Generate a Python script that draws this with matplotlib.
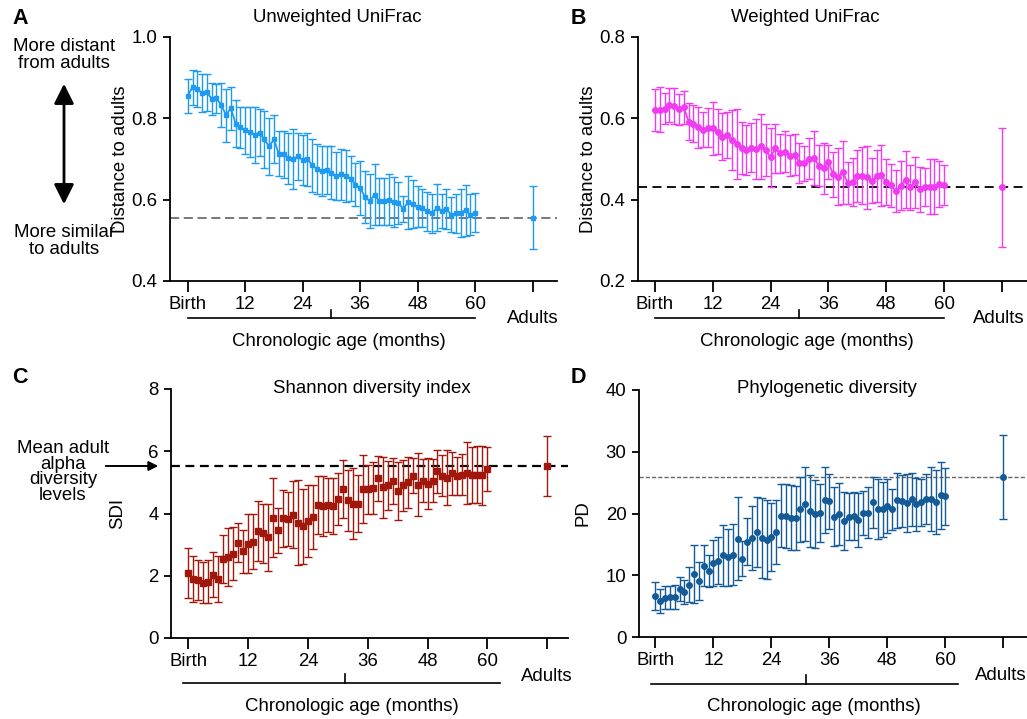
import numpy as np
import matplotlib.pyplot as plt

plt.rcParams['font.family'] = ['Liberation Sans', 'DejaVu Sans']
plt.rcParams['font.size'] = 13.4

W, H = 1027, 719

# months from birth to 60
months = np.arange(0, 61)
tick_pos = [0, 12, 24, 36, 48, 60, 72]
tick_labels = ['Birth', '12', '24', '36', '48', '60', '']
adult_x = 72

# A: unweighted UniFrac
unw_mean = [0.855, 0.877, 0.872, 0.862, 0.864, 0.848, 0.849, 0.833, 0.808, 0.825,
            0.787, 0.778, 0.771, 0.767, 0.760, 0.765, 0.748, 0.731, 0.748, 0.713,
            0.712, 0.702, 0.700, 0.707, 0.697, 0.699, 0.685, 0.675, 0.671, 0.674,
            0.666, 0.658, 0.662, 0.659, 0.652, 0.637, 0.629, 0.607, 0.597, 0.612,
            0.596, 0.596, 0.600, 0.595, 0.592, 0.577, 0.594, 0.589, 0.583, 0.580,
            0.571, 0.567, 0.580, 0.573, 0.577, 0.563, 0.566, 0.568, 0.574, 0.563, 0.568]
unw_err = [0.042, 0.043, 0.045, 0.046, 0.045, 0.039, 0.035, 0.054, 0.065, 0.053,
           0.058, 0.050, 0.058, 0.062, 0.069, 0.057, 0.069, 0.071, 0.059, 0.056,
           0.058, 0.063, 0.074, 0.058, 0.062, 0.066, 0.065, 0.062, 0.061, 0.059,
           0.065, 0.059, 0.062, 0.064, 0.056, 0.052, 0.067, 0.064, 0.066, 0.075,
           0.058, 0.058, 0.062, 0.061, 0.052, 0.032, 0.065, 0.059, 0.050, 0.046,
           0.049, 0.048, 0.058, 0.042, 0.048, 0.043, 0.048, 0.059, 0.063, 0.050, 0.048]
unw_adult, unw_adult_err = 0.555, 0.0775

# B: weighted UniFrac
w_mean = [0.621, 0.621, 0.624, 0.632, 0.630, 0.622, 0.627, 0.592, 0.587, 0.578,
          0.572, 0.577, 0.575, 0.567, 0.555, 0.559, 0.547, 0.537, 0.527, 0.522,
          0.528, 0.525, 0.531, 0.522, 0.504, 0.526, 0.514, 0.518, 0.508, 0.511,
          0.491, 0.489, 0.501, 0.503, 0.484, 0.477, 0.493, 0.462, 0.456, 0.467,
          0.441, 0.444, 0.459, 0.459, 0.455, 0.447, 0.458, 0.460, 0.443, 0.435,
          0.421, 0.434, 0.449, 0.430, 0.443, 0.425, 0.431, 0.432, 0.432, 0.438, 0.436]
w_err = [0.052, 0.055, 0.039, 0.042, 0.044, 0.039, 0.040, 0.045, 0.045, 0.050,
         0.043, 0.048, 0.066, 0.055, 0.058, 0.056, 0.073, 0.086, 0.064, 0.062,
         0.060, 0.073, 0.080, 0.063, 0.073, 0.060, 0.048, 0.051, 0.051, 0.050,
         0.049, 0.043, 0.050, 0.066, 0.050, 0.063, 0.041, 0.055, 0.070, 0.078,
         0.051, 0.059, 0.064, 0.070, 0.077, 0.055, 0.063, 0.075, 0.057, 0.053,
         0.052, 0.060, 0.070, 0.056, 0.063, 0.055, 0.047, 0.067, 0.068, 0.057, 0.049]
w_adult, w_adult_err = 0.430, 0.146

# C: Shannon diversity index
sdi_mean = [2.09, 1.91, 1.86, 1.78, 1.81, 2.04, 1.90, 2.54, 2.61, 2.71,
            3.06, 2.78, 3.03, 3.10, 3.43, 3.36, 3.23, 3.87, 3.46, 3.85,
            3.82, 3.96, 3.71, 3.59, 3.76, 3.89, 4.28, 4.24, 4.28, 4.24,
            4.47, 4.79, 4.42, 4.31, 4.31, 4.78, 4.78, 4.81, 5.13, 4.85,
            4.91, 5.04, 4.72, 4.90, 5.00, 5.22, 4.93, 5.06, 4.95, 5.06,
            5.35, 5.22, 5.15, 5.29, 5.20, 5.25, 5.31, 5.24, 5.25, 5.23, 5.44]
sdi_err = [0.80, 0.74, 0.65, 0.67, 0.68, 0.71, 0.73, 0.77, 0.93, 0.86,
           0.62, 0.69, 0.94, 0.88, 0.97, 0.96, 1.08, 1.27, 0.72, 0.92,
           0.86, 1.07, 1.37, 1.21, 1.16, 1.02, 0.93, 0.95, 0.87, 0.91,
           0.83, 0.93, 0.97, 1.14, 0.92, 1.09, 0.79, 0.83, 0.72, 0.98,
           0.79, 0.75, 0.94, 0.81, 0.81, 0.57, 1.00, 0.69, 0.82, 0.69,
           0.70, 0.67, 0.89, 0.69, 0.61, 0.65, 0.99, 0.91, 0.91, 0.95, 0.71]
sdi_adult, sdi_adult_err = 5.53, 0.965

# D: phylogenetic diversity
pd_mean = [6.60, 5.84, 6.38, 6.43, 6.43, 7.84, 7.35, 8.49, 10.16, 9.08,
           11.57, 10.70, 12.00, 12.38, 13.24, 12.92, 13.35, 15.95, 12.70, 15.46,
           16.00, 16.97, 16.05, 15.73, 16.16, 16.97, 19.62, 19.62, 19.35, 19.30,
           20.65, 21.60, 20.38, 19.90, 20.10, 22.16, 21.95, 19.50, 19.90, 18.80,
           19.46, 19.60, 18.97, 20.10, 20.16, 21.80, 20.76, 20.70, 21.19, 20.70,
           22.16, 22.05, 21.68, 22.27, 21.46, 21.80, 22.32, 22.32, 21.84, 22.97, 22.76]
pd_err = [2.30, 2.00, 1.86, 1.86, 1.95, 1.95, 1.95, 2.84, 4.73, 3.08,
          3.38, 2.60, 3.73, 3.81, 4.95, 4.60, 5.00, 6.76, 2.86, 3.86,
          5.14, 5.68, 6.54, 6.38, 5.49, 5.22, 5.10, 5.14, 5.22, 5.14,
          5.32, 6.00, 5.81, 5.46, 4.68, 5.35, 4.46, 4.78, 5.00, 4.68,
          3.78, 3.89, 4.32, 3.51, 4.14, 4.14, 4.86, 4.46, 4.32, 3.32,
          4.43, 4.24, 4.70, 4.24, 4.35, 3.76, 4.05, 5.14, 5.19, 5.41, 4.68]
pd_adult, pd_adult_err = 25.95, 6.8


def fx(x):
    return x / W


def fy(y):
    return 1 - y / H


def panel(rect, xlim, ylim, yticks, yfmt, mean, err, adult, adult_err, color,
          marker, ms, line, hline_style, bracket, bracket_y, label_y, adults_y, adults_dx=0):
    ax = fig.add_axes([fx(rect[0]), fy(rect[3]), fx(rect[2] - rect[0]), (rect[3] - rect[1]) / H])
    ax.errorbar(months, mean, yerr=err, color=color, ecolor=color, elinewidth=1.0,
                capsize=3, capthick=1.0, marker=marker, ms=ms,
                linestyle='-' if line else 'none', lw=1.3)
    ax.errorbar([adult_x], [adult], yerr=[adult_err], color=color, elinewidth=1.0,
                capsize=3, capthick=1.0, marker=marker, ms=ms, linestyle='none')
    ax.axhline(adult, **hline_style, zorder=0)
    ax.set_xlim(*xlim)
    ax.set_ylim(*ylim)
    ax.set_yticks(yticks)
    ax.set_yticklabels([yfmt.format(v) for v in yticks])
    ax.set_xticks(tick_pos)
    ax.set_xticklabels(tick_labels)
    for s in ['top', 'right']:
        ax.spines[s].set_visible(False)
    for s in ['left', 'bottom']:
        ax.spines[s].set_linewidth(1.3)
    ax.tick_params(axis='x', length=8, width=1.3, pad=3)
    ax.tick_params(axis='y', length=5, width=1.3, pad=4)
    tr = ax.get_xaxis_transform()
    ax.text(adult_x + adults_dx, adults_y, 'Adults', transform=tr, ha='center', va='center')
    # chronologic age bracket
    b0, b1, bm = bracket
    ax.plot([b0, b1], [bracket_y, bracket_y], color='black', lw=1.2, transform=tr, clip_on=False)
    ax.plot([bm, bm], [bracket_y, bracket_y + 0.035], color='black', lw=1.2, transform=tr, clip_on=False)
    ax.text(bm + 1.5, label_y, 'Chronologic age (months)', transform=tr, ha='center', va='center')
    return ax


fig = plt.figure(figsize=(W / 100, H / 100), dpi=100)

# A
axA = panel((170, 37, 557, 281), (-3.7, 77.1), (0.4, 1.0), [0.4, 0.6, 0.8, 1.0], '{:.1f}',
            unw_mean, unw_err, unw_adult, unw_adult_err, '#1e9bf0', 's', 2.6, True,
            dict(color='#555555', lw=1.1, ls=(0, (6, 3))), (0, 60, 30), -0.152, -0.246, -0.152)
axA.set_ylabel('Distance to adults', labelpad=2)
# B
axB = panel((638, 37, 1027, 281), (-3.5, 77.2), (0.2, 0.8), [0.2, 0.4, 0.6, 0.8], '{:.1f}',
            w_mean, w_err, w_adult, w_adult_err, '#f03cf0', 'o', 4, True,
            dict(color='black', lw=1.3, ls=(0, (5, 3))), (0, 60, 30), -0.152, -0.246, -0.152, -0.6)
axB.set_ylabel('Distance to adults', labelpad=2)
# C
axC = panel((171, 389, 568, 638), (-3.5, 76.2), (0, 8), [0, 2, 4, 6, 8], '{:g}',
            sdi_mean, sdi_err, sdi_adult, sdi_adult_err, '#a0170c', 's', 4, False,
            dict(color='black', lw=1.6, ls=(0, (4, 2.5))), (-1.1, 62.5, 31.4), -0.181, -0.275, -0.153)
axC.set_ylabel('SDI', labelpad=16)
# D
axD = panel((639, 390, 1027, 637), (-3.4, 76.9), (0, 40), [0, 10, 20, 30, 40], '{:g}',
            pd_mean, pd_err, pd_adult, pd_adult_err, '#135a96', 'o', 4, False,
            dict(color='#666666', lw=1.0, ls=(0, (3, 1.5))), (-1.0, 62.6, 31.2), -0.19, -0.28, -0.155, -0.6)
axD.set_ylabel('PD', labelpad=10)

# titles and panel letters
fig.text(fx(337), fy(17), 'Unweighted UniFrac', ha='center', va='center')
fig.text(fx(805), fy(17), 'Weighted UniFrac', ha='center', va='center')
fig.text(fx(372), fy(389), 'Shannon diversity index', ha='center', va='center')
fig.text(fx(827), fy(389), 'Phylogenetic diversity', ha='center', va='center')
for t, x, y in [('A', 20, 18), ('B', 578, 18), ('C', 20, 378), ('D', 578, 378)]:
    fig.text(fx(x), fy(y), t, ha='center', va='center', fontsize=15.5, fontweight='bold')

# side annotations
fig.text(fx(64), fy(55), 'More distant\nfrom adults', ha='center', va='center', linespacing=1.0)
fig.text(fx(64), fy(241), 'More similar\nto adults', ha='center', va='center', linespacing=1.0)
fig.patches.append(plt.matplotlib.patches.FancyArrowPatch(
    (fx(64), fy(81)), (fx(64), fy(207)), transform=fig.transFigure,
    arrowstyle='<|-|>', mutation_scale=30, lw=2, color='black'))
fig.text(fx(63), fy(472), 'Mean adult\nalpha\ndiversity\nlevels', ha='center', va='center',
         linespacing=0.92)
fig.patches.append(plt.matplotlib.patches.FancyArrowPatch(
    (fx(103), fy(466)), (fx(161), fy(466)), transform=fig.transFigure,
    arrowstyle='-|>', mutation_scale=14, lw=1.4, color='black'))

fig.savefig('out.png', dpi=100)
